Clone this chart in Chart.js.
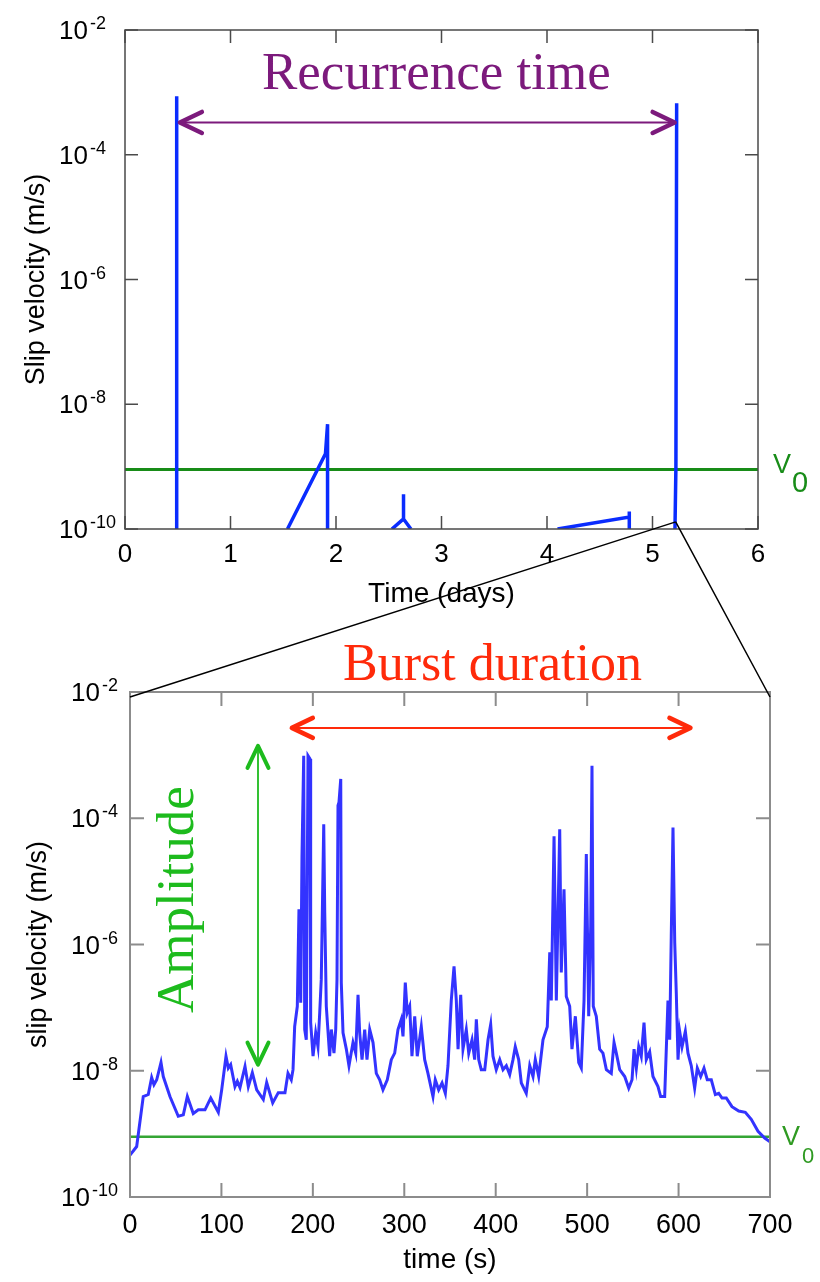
<!DOCTYPE html>
<html>
<head>
<meta charset="utf-8">
<script src="https://cdn.jsdelivr.net/npm/chart.js@4.4.0/dist/chart.umd.min.js"></script>
<style>
  html, body { margin: 0; padding: 0; background: #fff; }
  #page { position: relative; width: 820px; height: 1282px; }
  #page canvas { position: absolute; left: 0; }
  #topChart { top: 0; }
  #bottomChart { top: 620px; }
  #overlay { top: 0; pointer-events: none; }
</style>
</head>
<body>
<div id="page">
  <canvas id="topChart" width="820" height="620"></canvas>
  <canvas id="bottomChart" width="820" height="662"></canvas>
  <canvas id="overlay" width="820" height="1282"></canvas>
</div>
<script>
// ===== Long record (days) — null splits the line where it drops below 1e-10 =====
const dayTimes    = [0.49, 0.49, 1.0, 1.54, 1.90, 1.92, 1.92, 2.2, 2.53, 2.64, 2.64, 2.64, 2.71, 3.5, 4.10, 4.78, 4.78, 4.78, 5.0, 5.213, 5.222, 5.229];
const dayVelocity = [1e-10, 8.7e-4, null, 1e-10, 1.6e-9, 4.8e-9, 1e-10, null, 1e-10, 1.45e-10, 3.6e-10, 1.45e-10, 1e-10, null, 1e-10, 1.55e-10, 1.9e-10, 1e-10, null, 1e-10, 1e-9, 6.7e-4];
const dayTicks = [0, 1, 2, 3, 4, 5, 6];

// ===== Zoom on one burst (seconds) =====
const burstTimes = [
  0, 7.3, 14.5, 20, 23.7, 26.2, 29.2, 33.9, 36.4, 43.7,
  52.8, 58.3, 62.7, 69.2, 74.7, 82, 88.3, 96.6, 100.3, 105,
  107.5, 110.1, 114.8, 117.4, 120.3, 125.8, 129.4, 133.8, 138.6, 145.8,
  149.5, 156.1, 162.2, 169.5, 172.8, 176.4, 178.3, 180.1, 183.0, 184.8,
  186.7, 188.1, 190.0, 191.1, 192.8, 194.7, 196.9, 197.6, 200.2, 203.1,
  205.6, 207.5, 209.2, 211.9, 213.0, 214.7, 218.4, 220.2, 223.1, 225.0,
  226.4, 227.5, 228.6, 230.5, 231.1, 233.0, 236.6, 239.5, 243.9, 246.9,
  249.4, 251.2, 253.8, 256.7, 259.2, 262.2, 265.8, 269.4, 273.1, 276.7,
  281.4, 285.8, 289.5, 293.1, 296.7, 298.6, 301.1, 303.3, 305.9, 308.4,
  311.4, 314.2, 318.6, 322.3, 325.9, 331.4, 333.9, 337.6, 341.3, 344.9,
  347.8, 351.4, 354.4, 356.9, 358.8, 361.7, 364.2, 367.8, 370.5, 374.1,
  377.0, 378.8, 381.4, 384.2, 388.0, 391.6, 394.5, 397.0, 400.6, 404.4,
  408.0, 411.6, 415.3, 418.9, 421.4, 425.1, 428.0, 433.4, 437.2, 440.8,
  443.3, 447.0, 451.7, 456.4, 459.1, 460.8, 463.8, 466.3, 470.0, 471.7,
  474.7, 477.2, 480.9, 483.4, 487.1, 490.8, 493.6, 496.6, 499.1, 501.7,
  503.9, 505.3, 506.7, 510.0, 513.7, 517.3, 521.0, 526.4, 529.4, 531.9,
  535.6, 541.1, 545.5, 549.1, 551.3, 553.8, 556.4, 559.2, 562.2, 564.7,
  568.4, 572.0, 577.5, 580.4, 584.8, 588.4, 590.3, 592.0, 593.9, 595.8,
  597.5, 599.4, 601.2, 603.8, 607.4, 610.3, 613.9, 617.6, 620.5, 624.2,
  627.8, 631.4, 635.8, 640.2, 643.9, 647.5, 652.2, 658.4, 665.8, 673.0,
  679.5, 686.9, 694.2, 700
];
const burstVelocity = [
  4.6e-10, 6.3e-10, 3.9e-9, 4.2e-9, 7.8e-9, 6.0e-9, 7.2e-9, 1.35e-8, 8.1e-9, 3.9e-9,
  1.9e-9, 2.0e-9, 3.9e-9, 2.1e-9, 2.4e-9, 2.4e-9, 3.7e-9, 2.2e-9, 5.0e-9, 1.7e-8,
  1.1e-8, 1.25e-8, 5.6e-9, 6.8e-9, 5.4e-9, 1.17e-8, 5.6e-9, 9.3e-9, 5.0e-9, 3.5e-9,
  6.5e-9, 3.1e-9, 4.5e-9, 4.5e-9, 9.1e-9, 7.2e-9, 1.04e-8, 5.0e-8, 1.05e-7, 3.6e-6,
  1.2e-7, 2.5e-5, 9.8e-4, 4.5e-8, 3.1e-8, 9.8e-4, 8.7e-4, 5.8e-8, 1.7e-8, 4.0e-8,
  2.4e-8, 8.3e-8, 2.8e-7, 8.0e-5, 3.2e-6, 1.05e-7, 1.7e-8, 4.5e-8, 1.9e-8, 4.5e-8,
  2.8e-7, 1.6e-4, 1.8e-4, 4.2e-4, 2.5e-7, 4.0e-8, 2.2e-8, 1.2e-8, 2.8e-8, 1.9e-8,
  1.6e-7, 4.0e-8, 1.5e-8, 4.5e-8, 1.5e-8, 4.5e-8, 2.8e-8, 9.1e-9, 7.2e-9, 5.0e-9,
  7.2e-9, 1.5e-8, 1.9e-8, 4.5e-8, 6.5e-8, 3.5e-8, 2.5e-7, 8.3e-8, 1.05e-7, 1.7e-8,
  7.3e-8, 1.7e-8, 5.0e-8, 1.5e-8, 9.1e-9, 3.9e-9, 7.2e-9, 5.0e-9, 6.4e-9, 4.4e-9,
  1.2e-8, 1.3e-7, 4.5e-7, 1.3e-7, 2.2e-8, 1.6e-7, 2.2e-8, 4.5e-8, 1.9e-8, 3.1e-8,
  1.5e-8, 6.5e-8, 1.5e-8, 1.04e-8, 1.04e-8, 3.1e-8, 5.4e-8, 1.7e-8, 1.04e-8, 1.5e-8,
  1.04e-8, 1.2e-8, 8.7e-9, 1.5e-8, 2.4e-8, 1.5e-8, 6.4e-9, 4.4e-9, 1.2e-8, 8.1e-9,
  1.5e-8, 8.1e-9, 3.1e-8, 5.0e-8, 7.5e-7, 1.3e-7, 5.2e-5, 1.3e-7, 6.7e-5, 3.6e-7,
  7.5e-6, 1.5e-7, 1.05e-7, 2.2e-8, 7.3e-8, 1.34e-8, 1.1e-8, 1.3e-7, 2.7e-5, 7.3e-8,
  1.95e-6, 6.8e-4, 1.05e-7, 7.3e-8, 2.2e-8, 1.9e-8, 1.04e-8, 9.1e-9, 2.8e-8, 1.9e-8,
  1.04e-8, 8.1e-9, 5.3e-9, 7.2e-9, 2.2e-8, 1.1e-8, 2.4e-8, 1.7e-8, 5.8e-8, 1.5e-8,
  2.0e-8, 8.1e-9, 5.6e-9, 3.9e-9, 3.9e-9, 1.3e-7, 3.1e-8, 1.35e-6, 7.1e-5, 1.07e-6,
  1.7e-7, 1.5e-8, 4.2e-8, 2.4e-8, 4.2e-8, 1.9e-8, 1.2e-8, 5.3e-9, 1.1e-8, 8.1e-9,
  1.1e-8, 7.2e-9, 7.2e-9, 4.2e-9, 4.4e-9, 3.7e-9, 3.7e-9, 2.7e-9, 2.3e-9, 2.2e-9,
  1.7e-9, 1.1e-9, 8.6e-10, 7.5e-10
];
const secondTicks = [0, 100, 200, 300, 400, 500, 600, 700];

// shared
const velocityTicks = [1e-10, 1e-8, 1e-6, 1e-4, 1e-2];
const V0 = 9e-10;
const zoomedDay = 5.22;

// annotations (data coordinates)
const recurrenceSpan = [0.52, 5.21];   // days
const recurrenceLevel = 3.3e-4;
const burstSpan = [177, 613];          // s
const burstLevel = 2.7e-3;
const amplitudeAt = 140;               // s
const amplitudeRange = [1.25e-8, 1.4e-3];

const SANS = '"Liberation Sans", Arial, Helvetica, sans-serif';
const SERIF = '"Liberation Serif", "Times New Roman", serif';

const toPoints = (xs, ys) => xs.map((x, i) => ({ x, y: ys[i] }));

// Boxed frame with inward ticks on all sides, and 10^n labels
const framePlugin = {
  id: 'frame',
  afterDatasetsDraw(chart, args, o) {
    const { ctx, chartArea: a, scales: { x, y } } = chart;
    ctx.save();
    ctx.strokeStyle = o.color;
    ctx.lineWidth = o.width;
    ctx.strokeRect(a.left, a.top, a.right - a.left, a.bottom - a.top);
    ctx.beginPath();
    o.xTicks.forEach(v => {
      const px = x.getPixelForValue(v);
      ctx.moveTo(px, a.bottom); ctx.lineTo(px, a.bottom - o.len);
      ctx.moveTo(px, a.top); ctx.lineTo(px, a.top + o.len);
    });
    o.yTicks.forEach(v => {
      const py = y.getPixelForValue(v);
      ctx.moveTo(a.left, py); ctx.lineTo(a.left + o.len, py);
      ctx.moveTo(a.right, py); ctx.lineTo(a.right - o.len, py);
    });
    ctx.stroke();

    ctx.fillStyle = '#000';
    ctx.textBaseline = 'alphabetic';
    ctx.textAlign = 'left';
    o.yTicks.forEach(v => {
      const py = y.getPixelForValue(v);
      const exp = String(Math.round(Math.log10(v)));
      ctx.font = o.baseSize + 'px ' + SANS;
      const w1 = ctx.measureText('10').width;
      ctx.font = o.expSize + 'px ' + SANS;
      const w2 = ctx.measureText(exp).width;
      const x0 = o.align === 'left' ? o.labelX : o.labelX - w1 - w2 - 2;
      ctx.font = o.baseSize + 'px ' + SANS;
      ctx.fillText('10', x0, py + o.baseShift);
      ctx.font = o.expSize + 'px ' + SANS;
      ctx.fillText(exp, x0 + w1 + 2, py + o.expShift);
    });
    ctx.restore();
  }
};

const topChart = new Chart(document.getElementById('topChart'), {
  type: 'line',
  data: {
    datasets: [
      { data: toPoints(dayTimes, dayVelocity), borderColor: '#0a2cff', borderWidth: 3.5, pointRadius: 0, spanGaps: false, tension: 0 },
      { data: toPoints([0, 6], [V0, V0]), borderColor: '#188c18', borderWidth: 3, pointRadius: 0, tension: 0 }
    ]
  },
  options: {
    responsive: false,
    animation: false,
    events: [],
    layout: { padding: { top: 30, right: 62, left: 0, bottom: 0 } },
    plugins: {
      legend: { display: false },
      tooltip: { enabled: false },
      frame: { color: '#4a4a4a', width: 1.5, len: 13, xTicks: dayTicks, yTicks: velocityTicks,
               align: 'left', labelX: 59, baseSize: 26, expSize: 18, baseShift: 9, expShift: -1 }
    },
    scales: {
      x: {
        type: 'linear', min: 0, max: 6,
        afterFit: s => { s.height = 91; },
        grid: { display: false, drawTicks: false },
        border: { display: false },
        ticks: { stepSize: 1, color: '#000', padding: 10, font: { family: SANS, size: 26 } },
        title: { display: true, text: 'Time (days)', color: '#000', font: { family: SANS, size: 28 }, padding: { bottom: 9 } }
      },
      y: {
        type: 'logarithmic', min: 1e-10, max: 1e-2,
        afterFit: s => { s.width = 125; },
        grid: { display: false, drawTicks: false },
        border: { display: false },
        ticks: { display: false },
        title: { display: true, text: 'Slip velocity (m/s)', color: '#000', font: { family: SANS, size: 27 }, padding: { top: 20 } }
      }
    }
  },
  plugins: [framePlugin]
});

const bottomChart = new Chart(document.getElementById('bottomChart'), {
  type: 'line',
  data: {
    datasets: [
      { data: toPoints(burstTimes, burstVelocity), borderColor: '#3333ff', borderWidth: 3, pointRadius: 0, tension: 0 },
      { data: toPoints([0, 700], [V0, V0]), borderColor: '#34a534', borderWidth: 2.5, pointRadius: 0, tension: 0 }
    ]
  },
  options: {
    responsive: false,
    animation: false,
    events: [],
    layout: { padding: { top: 72, right: 50, left: 0, bottom: 0 } },
    plugins: {
      legend: { display: false },
      tooltip: { enabled: false },
      frame: { color: '#8c8c8c', width: 2, len: 14, xTicks: secondTicks, yTicks: velocityTicks,
               align: 'right', labelX: 118, baseSize: 26, expSize: 18, baseShift: 9, expShift: -1 }
    },
    scales: {
      x: {
        type: 'linear', min: 0, max: 700,
        afterFit: s => { s.height = 85; },
        grid: { display: false, drawTicks: false },
        border: { display: false },
        ticks: { stepSize: 100, color: '#000', padding: 12, font: { family: SANS, size: 27 } },
        title: { display: true, text: 'time (s)', color: '#000', font: { family: SANS, size: 28 }, padding: { bottom: 5 } }
      },
      y: {
        type: 'logarithmic', min: 1e-10, max: 1e-2,
        afterFit: s => { s.width = 130; },
        grid: { display: false, drawTicks: false },
        border: { display: false },
        ticks: { display: false },
        title: { display: true, text: 'slip velocity (m/s)', color: '#000', font: { family: SANS, size: 27 }, padding: { top: 22 } }
      }
    }
  },
  plugins: [framePlugin]
});

// ===== Overlay: zoom connectors, arrows and annotation text =====
function chevron(ctx, tx, ty, ux, uy, len, half) {
  const px = -uy, py = ux;
  ctx.beginPath();
  ctx.moveTo(tx + ux * len + px * half, ty + uy * len + py * half);
  ctx.lineTo(tx, ty);
  ctx.lineTo(tx + ux * len - px * half, ty + uy * len - py * half);
  ctx.stroke();
}

function doubleArrow(ctx, x1, y1, x2, y2, color, shaftW, headW, len, half) {
  ctx.save();
  ctx.strokeStyle = color;
  ctx.lineCap = 'round';
  ctx.lineJoin = 'round';
  ctx.lineWidth = shaftW;
  ctx.beginPath(); ctx.moveTo(x1, y1); ctx.lineTo(x2, y2); ctx.stroke();
  const L = Math.hypot(x2 - x1, y2 - y1), ux = (x2 - x1) / L, uy = (y2 - y1) / L;
  ctx.lineWidth = headW;
  chevron(ctx, x1, y1, ux, uy, len, half);
  chevron(ctx, x2, y2, -ux, -uy, len, half);
  ctx.restore();
}

function drawOverlay() {
  const ctx = document.getElementById('overlay').getContext('2d');
  const offTop = 0, offBot = 620;
  const tx = topChart.scales.x, ty = topChart.scales.y;
  const bx = bottomChart.scales.x, by = bottomChart.scales.y;
  const ba = bottomChart.chartArea;

  // connectors from the zoomed event to the lower panel
  const zx = tx.getPixelForValue(zoomedDay);
  const zy = ty.getPixelForValue(1.3e-10) + offTop;
  ctx.save();
  ctx.strokeStyle = '#000';
  ctx.lineWidth = 1.5;
  ctx.beginPath();
  ctx.moveTo(zx, zy); ctx.lineTo(ba.left, ba.top + offBot + 5);
  ctx.moveTo(zx, zy); ctx.lineTo(ba.right, ba.top + offBot + 5);
  ctx.stroke();
  ctx.restore();

  // recurrence time
  const ry = ty.getPixelForValue(recurrenceLevel) + offTop;
  doubleArrow(ctx, tx.getPixelForValue(recurrenceSpan[0]), ry, tx.getPixelForValue(recurrenceSpan[1]), ry,
    '#7c1a7c', 2, 4.5, 22, 10.5);
  ctx.fillStyle = '#7c1a7c';
  ctx.font = '53px ' + SERIF;
  ctx.textBaseline = 'alphabetic';
  ctx.textAlign = 'left';
  ctx.fillText('Recurrence time', 262, 89);

  // burst duration
  const by0 = by.getPixelForValue(burstLevel) + offBot;
  doubleArrow(ctx, bx.getPixelForValue(burstSpan[0]), by0, bx.getPixelForValue(burstSpan[1]), by0,
    '#ff2a0a', 2, 4.5, 21, 10);
  ctx.fillStyle = '#ff2a0a';
  ctx.font = '52px ' + SERIF;
  ctx.fillText('Burst duration', 343, 680);

  // amplitude
  const ax = bx.getPixelForValue(amplitudeAt);
  doubleArrow(ctx, ax, by.getPixelForValue(amplitudeRange[1]) + offBot, ax, by.getPixelForValue(amplitudeRange[0]) + offBot,
    '#1dbb1d', 1.8, 4, 22, 10.5);
  ctx.save();
  ctx.fillStyle = '#1dbb1d';
  ctx.font = '53px ' + SERIF;
  ctx.translate(193, 1013);
  ctx.rotate(-Math.PI / 2);
  ctx.fillText('Amplitude', 0, 0);
  ctx.restore();

  // V0 labels
  const ta = topChart.chartArea;
  const v0Top = ty.getPixelForValue(V0) + offTop;
  ctx.fillStyle = '#188c18';
  ctx.font = '27px ' + SANS;
  ctx.fillText('V', ta.right + 15, v0Top + 4);
  ctx.font = '29px ' + SANS;
  ctx.fillText('0', ta.right + 34, v0Top + 23);

  const v0Bot = by.getPixelForValue(V0) + offBot;
  ctx.fillStyle = '#2f9a22';
  ctx.font = '27px ' + SANS;
  ctx.fillText('V', ba.right + 12, v0Bot + 8);
  ctx.font = '22px ' + SANS;
  ctx.fillText('0', ba.right + 32, v0Bot + 26);
}

drawOverlay();
</script>
</body>
</html>
